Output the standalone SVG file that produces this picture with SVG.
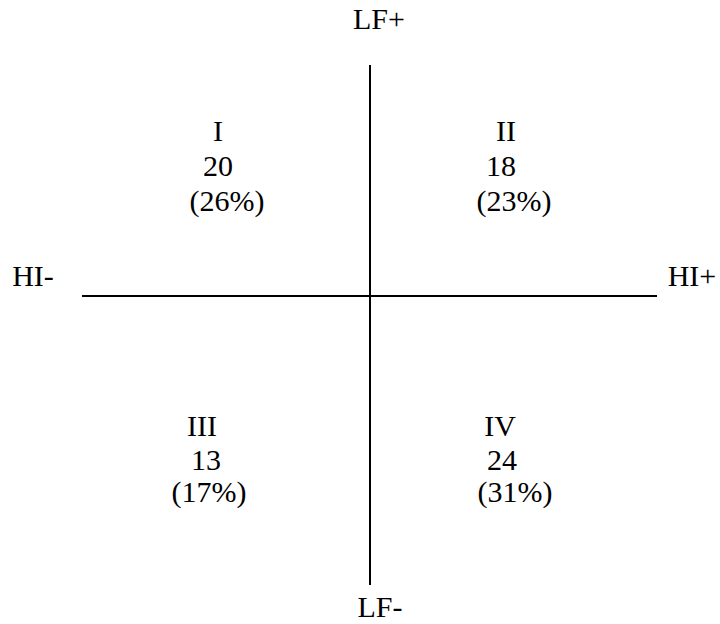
<svg xmlns="http://www.w3.org/2000/svg" width="720" height="624" viewBox="0 0 720 624">
<style>
text{font-family:"Liberation Serif","Times New Roman",serif;font-size:30px;fill:#000;text-anchor:middle}
line{stroke:#000;stroke-width:2}
</style>
<rect width="720" height="624" fill="#fff"/>
<g id="connectors">
<line x1="370" y1="65" x2="370" y2="585"/>
<line x1="82" y1="296" x2="657" y2="296"/>
</g>
<g id="axis-labels">
<text x="379" y="29">LF+</text>
<text x="380" y="617">LF-</text>
<text x="33" y="286">HI-</text>
<text x="692" y="286">HI+</text>
</g>
<g id="q1">
<text x="218" y="141">I</text>
<text x="218" y="176">20</text>
<text x="227" y="211">(26%)</text>
</g>
<g id="q2">
<text x="506" y="141">II</text>
<text x="501" y="176">18</text>
<text x="514" y="211">(23%)</text>
</g>
<g id="q3">
<text x="202" y="436">III</text>
<text x="206" y="470">13</text>
<text x="209" y="502">(17%)</text>
</g>
<g id="q4">
<text x="500" y="436">IV</text>
<text x="502" y="470">24</text>
<text x="515" y="502">(31%)</text>
</g>
</svg>
